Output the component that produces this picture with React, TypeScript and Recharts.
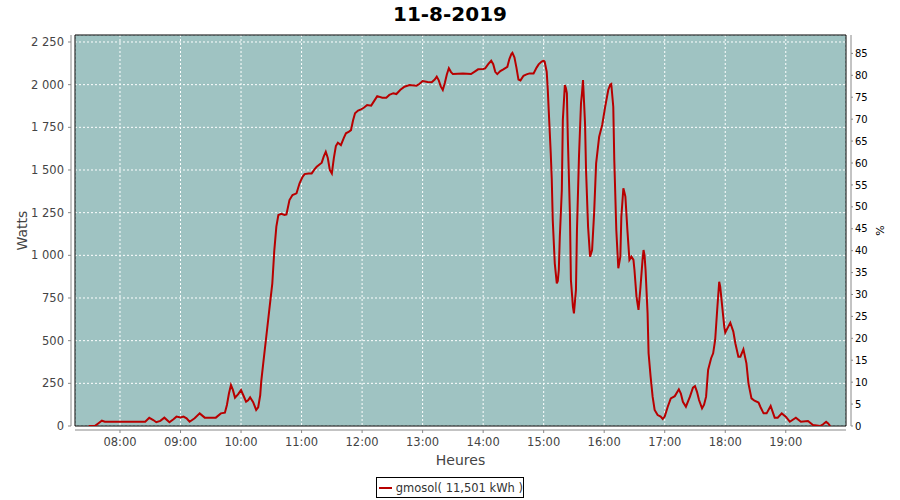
import React from 'react';
import { LineChart, Line, XAxis, YAxis, CartesianGrid, ReferenceArea } from 'recharts';

const times = [
  "07:29", "07:35", "07:39", "07:42", "07:45", "08:25", "08:29", "08:33", "08:36", "08:40",
  "08:44", "08:49", "08:53", "08:56", "09:00", "09:03", "09:06", "09:09", "09:14", "09:19",
  "09:24", "09:35", "09:40", "09:44", "09:46", "09:48", "09:50", "09:52", "09:54", "09:57",
  "10:00", "10:03", "10:05", "10:07", "10:09", "10:12", "10:15", "10:17", "10:19", "10:20",
  "10:22", "10:25", "10:28", "10:31", "10:33", "10:35", "10:37", "10:40", "10:43", "10:45",
  "10:48", "10:51", "10:55", "10:58", "11:01", "11:03", "11:07", "11:10", "11:13", "11:15",
  "11:20", "11:22", "11:24", "11:26", "11:28", "11:30", "11:32", "11:34", "11:36", "11:39",
  "11:42", "11:44", "11:47", "11:49", "11:51", "11:53", "11:56", "11:59", "12:02", "12:05",
  "12:09", "12:12", "12:15", "12:20", "12:24", "12:27", "12:31", "12:34", "12:38", "12:42",
  "12:47", "12:54", "12:57", "13:00", "13:05", "13:09", "13:12", "13:14", "13:16", "13:18",
  "13:20", "13:22", "13:24", "13:26", "13:28", "13:30", "13:35", "13:40", "13:44", "13:48",
  "13:52", "13:55", "14:00", "14:02", "14:05", "14:08", "14:10", "14:12", "14:14", "14:17",
  "14:20", "14:24", "14:26", "14:28", "14:29", "14:31", "14:33", "14:35", "14:37", "14:40",
  "14:43", "14:46", "14:50", "14:53", "14:55", "14:58", "15:00", "15:01", "15:03", "15:04",
  "15:05", "15:07", "15:08", "15:09", "15:11", "15:13", "15:14", "15:15", "15:16", "15:18",
  "15:19", "15:21", "15:22", "15:23", "15:24", "15:26", "15:27", "15:29", "15:30", "15:32",
  "15:33", "15:35", "15:37", "15:38", "15:39", "15:40", "15:41", "15:42", "15:44", "15:46",
  "15:48", "15:50", "15:52", "15:55", "15:58", "16:01", "16:04", "16:06", "16:07", "16:09",
  "16:10", "16:12", "16:14", "16:16", "16:17", "16:19", "16:20", "16:21", "16:23", "16:25",
  "16:27", "16:29", "16:30", "16:32", "16:34", "16:36", "16:38", "16:39", "16:40", "16:41",
  "16:43", "16:44", "16:46", "16:48", "16:50", "16:53", "16:56", "16:58", "17:00", "17:03",
  "17:06", "17:10", "17:14", "17:16", "17:18", "17:21", "17:25", "17:28", "17:30", "17:32",
  "17:34", "17:37", "17:39", "17:41", "17:43", "17:46", "17:48", "17:50", "17:52", "17:54",
  "17:55", "17:57", "17:59", "18:00", "18:03", "18:05", "18:08", "18:10", "18:13", "18:15",
  "18:18", "18:21", "18:23", "18:26", "18:29", "18:33", "18:35", "18:38", "18:41", "18:45",
  "18:49", "18:52", "18:56", "19:00", "19:04", "19:10", "19:15", "19:22", "19:27", "19:34",
  "19:37", "19:40", "19:42", "19:44"
];

const watts = [
  0, 0, 18, 31, 25, 25, 48, 35, 22, 30,
  49, 22, 40, 55, 50, 55, 45, 25, 45, 74,
  49, 49, 74, 78, 123, 190, 240, 210, 166, 185,
  211, 170, 142, 150, 168, 140, 94, 110, 180, 260,
  367, 523, 680, 836, 1031, 1168, 1236, 1243, 1236, 1240,
  1324, 1353, 1363, 1422, 1460, 1476, 1480, 1480, 1505, 1519,
  1543, 1580, 1607, 1570, 1500, 1480, 1570, 1640, 1660, 1646,
  1690, 1715, 1725, 1734, 1790, 1832, 1848, 1855, 1866, 1881,
  1877, 1905, 1933, 1924, 1924, 1940, 1950, 1945, 1970, 1988,
  1998, 1994, 2005, 2021, 2016, 2014, 2030, 2047, 2025, 1990,
  1969, 2010, 2060, 2096, 2075, 2062, 2064, 2066, 2064, 2062,
  2078, 2090, 2092, 2095, 2120, 2140, 2120, 2075, 2062, 2080,
  2090, 2105, 2150, 2180, 2187, 2160, 2100, 2030, 2025, 2052,
  2060, 2066, 2066, 2100, 2119, 2135, 2140, 2134, 2076, 1979,
  1851, 1600, 1450, 1207, 953, 836, 850, 914, 1109, 1383,
  1793, 1998, 1980, 1949, 1676, 1246, 855, 700, 660, 797,
  1148, 1578, 1891, 1950, 2027, 1900, 1773, 1500, 1168, 992,
  1031, 1246, 1539, 1695, 1764, 1871, 1969, 2000, 2004, 1871,
  1559, 1148, 924, 992, 1226, 1393, 1370, 1344, 1148, 973,
  992, 973, 914, 758, 680, 816, 973, 1031, 1000, 914,
  660, 426, 289, 172, 94, 64, 55, 41, 55, 113,
  162, 175, 215, 190, 142, 113, 172, 225, 234, 200,
  152, 104, 125, 172, 328, 397, 426, 504, 680, 845,
  816, 699, 582, 547, 582, 605, 553, 485, 406, 406,
  449, 367, 250, 162, 148, 137, 110, 74, 74, 117,
  49, 49, 74, 55, 25, 49, 25, 29, 6, 0,
  10, 25, 15, 0
];

const xTickLabels = ["08:00", "09:00", "10:00", "11:00", "12:00", "13:00", "14:00", "15:00", "16:00", "17:00", "18:00", "19:00"];
const wattTicks = [0, 250, 500, 750, 1000, 1250, 1500, 1750, 2000, 2250];
const wattTickLabels = ["0", "250", "500", "750", "1 000", "1 250", "1 500", "1 750", "2 000", "2 250"];
const pctTicks = [0, 5, 10, 15, 20, 25, 30, 35, 40, 45, 50, 55, 60, 65, 70, 75, 80, 85];

const xDomain = [435.4, 1199.7];
const wattDomain = [0, 2291];
const pctDomain = [0, 89.2];

const toMin = (s: string) => {
  const [h, m] = s.split(':').map(Number);
  return h * 60 + m;
};

const data = times.map((t, i) => ({ t: toMin(t), w: watts[i] }));
const xTicks = xTickLabels.map(toMin);

const FONT = '"DejaVu Sans", sans-serif';
const PLOT_LEFT = 75;
const PLOT_RIGHT = 846;
const PLOT_BOTTOM = 426;

const LeftTick = (props: any) => {
  const { payload } = props;
  const y = payload.coordinate;
  const label = wattTickLabels[wattTicks.indexOf(payload.value)];
  return (
    <g>
      <line x1={PLOT_LEFT - 7} x2={PLOT_LEFT - 4} y1={y} y2={y} stroke="#888" />
      <text x={PLOT_LEFT - 11} y={y} dy="0.36em" textAnchor="end" fontSize={11.5} fill="#444" fontFamily={FONT}>
        {label}
      </text>
    </g>
  );
};

const RightTick = (props: any) => {
  const { payload } = props;
  const y = payload.coordinate;
  return (
    <g>
      <line x1={PLOT_RIGHT + 5} x2={PLOT_RIGHT + 7} y1={y} y2={y} stroke="#888" />
      <text x={PLOT_RIGHT + 9} y={y} dy="0.36em" textAnchor="start" fontSize={10} fill="#000" fontFamily={FONT}>
        {payload.value}
      </text>
    </g>
  );
};

const BottomTick = (props: any) => {
  const { payload } = props;
  const x = payload.coordinate;
  const label = xTickLabels[xTicks.indexOf(payload.value)];
  return (
    <g>
      <line x1={x} x2={x} y1={PLOT_BOTTOM + 4} y2={PLOT_BOTTOM + 7} stroke="#888" />
      <text x={x} y={PLOT_BOTTOM + 20} textAnchor="middle" fontSize={11.5} fill="#444" fontFamily={FONT}>
        {label}
      </text>
    </g>
  );
};

const LeftLabel = (props: any) => {
  const { viewBox } = props;
  const cx = 22;
  const cy = viewBox.y + viewBox.height / 2;
  return (
    <text x={cx} y={cy} transform={`rotate(-90 ${cx} ${cy})`} textAnchor="middle" dy="0.36em" fontSize={14} fill="#444" fontFamily={FONT}>
      Watts
    </text>
  );
};

const RightLabel = (props: any) => {
  const { viewBox } = props;
  const cx = 880;
  const cy = viewBox.y + viewBox.height / 2;
  return (
    <text x={cx} y={cy} transform={`rotate(-90 ${cx} ${cy})`} textAnchor="middle" dy="0.36em" fontSize={11} fill="#000" fontFamily={FONT}>
      %
    </text>
  );
};

const BottomLabel = (props: any) => {
  const { viewBox } = props;
  const cx = viewBox.x + viewBox.width / 2;
  return (
    <text x={cx} y={PLOT_BOTTOM + 39} textAnchor="middle" fontSize={14} fill="#444" fontFamily={FONT}>
      Heures
    </text>
  );
};

export default function App() {
  return (
    <div style={{ position: 'absolute', left: 0, top: 0, width: 900, height: 500, background: '#fff', fontFamily: FONT }}>
      <div style={{ position: 'absolute', left: 0, top: 2, width: 900, textAlign: 'center', fontSize: 20, fontWeight: 'bold', color: '#000', fontFamily: FONT }}>
        11-8-2019
      </div>
      <LineChart width={900} height={500} data={data} margin={{ top: 35, right: 0, bottom: 0, left: 0 }}>
        <CartesianGrid yAxisId="left" fill="#9fc3c2" fillOpacity={1} stroke="#ffffff" strokeDasharray="2 2" />
        <XAxis
          dataKey="t"
          type="number"
          domain={xDomain}
          ticks={xTicks}
          interval={0}
          height={74}
          allowDataOverflow
          tickLine={false}
          axisLine={{ stroke: '#888', transform: 'translate(0,4)' }}
          tick={<BottomTick />}
          label={<BottomLabel />}
        />
        <YAxis
          yAxisId="left"
          orientation="left"
          width={75}
          domain={wattDomain}
          ticks={wattTicks}
          interval={0}
          allowDataOverflow
          tickLine={false}
          axisLine={{ stroke: '#888', transform: 'translate(-4,0)' }}
          tick={<LeftTick />}
          label={<LeftLabel />}
        />
        <YAxis
          yAxisId="right"
          orientation="right"
          width={54}
          domain={pctDomain}
          ticks={pctTicks}
          interval={0}
          allowDataOverflow
          tickLine={false}
          axisLine={{ stroke: '#888', transform: 'translate(5,0)' }}
          tick={<RightTick />}
          label={<RightLabel />}
        />
        <ReferenceArea
          yAxisId="left"
          x1={xDomain[0]}
          x2={xDomain[1]}
          y1={wattDomain[0]}
          y2={wattDomain[1]}
          fill="none"
          stroke="#000"
          strokeWidth={1}
          ifOverflow="visible"
        />
        <Line
          yAxisId="left"
          type="linear"
          dataKey="w"
          stroke="#b80000"
          strokeWidth={2}
          dot={false}
          isAnimationActive={false}
        />
      </LineChart>
      <div
        style={{
          position: 'absolute',
          left: 376,
          top: 477,
          width: 148,
          height: 21,
          boxSizing: 'border-box',
          border: '1px solid #000',
          background: '#fff',
          display: 'flex',
          alignItems: 'center',
          fontSize: 11.5,
          color: '#333',
          fontFamily: FONT,
          whiteSpace: 'nowrap',
        }}
      >
        <span style={{ display: 'inline-block', width: 15, height: 2, background: '#b80000', marginLeft: 2, marginRight: 4 }} />
        <span>gmosol( 11,501 kWh )</span>
      </div>
    </div>
  );
}
